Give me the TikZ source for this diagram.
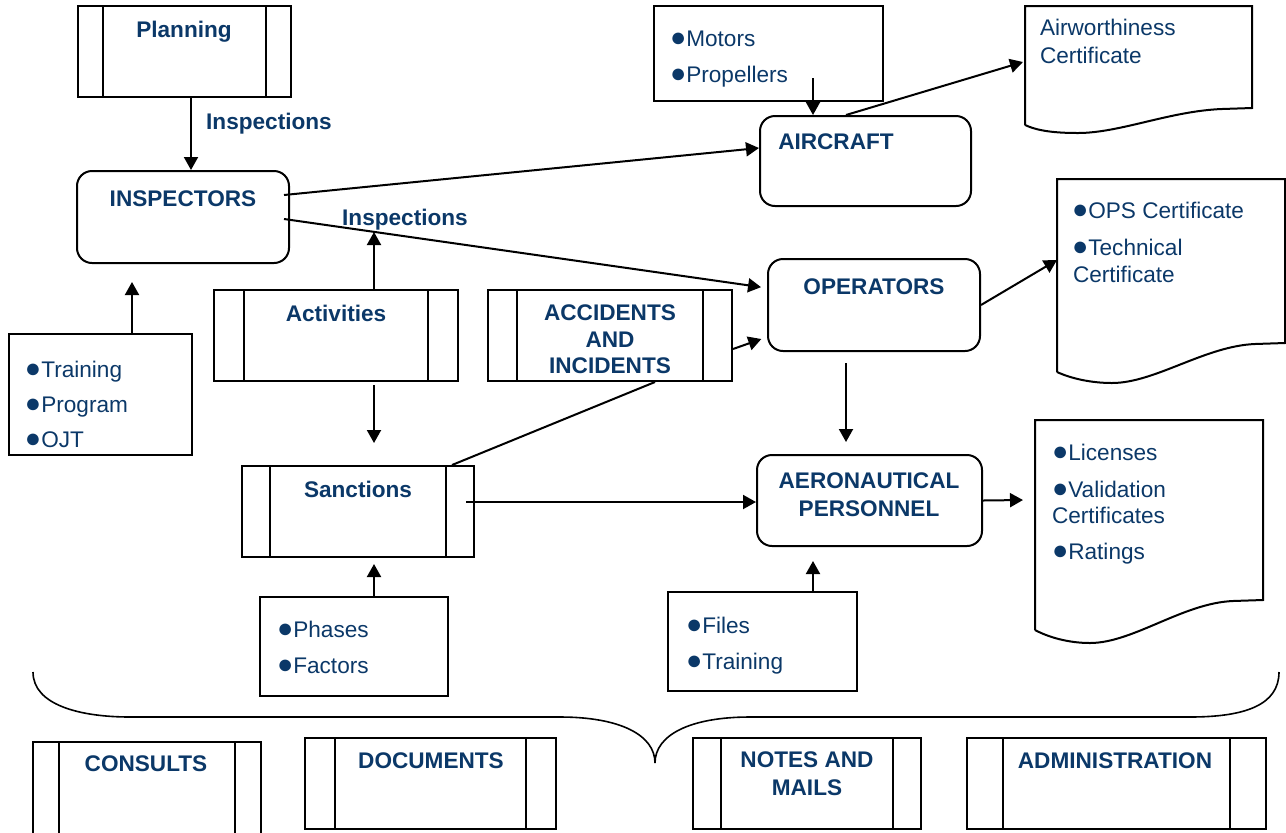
\documentclass[tikz,border=0pt]{standalone}
\usepackage{fontspec}
\setmainfont{Liberation Sans}
\usetikzlibrary{arrows.meta}
\definecolor{navy}{RGB}{11,56,104}
\newcommand{\bul}{{\fontsize{13.5pt}{13.5pt}\selectfont ●}}

\tikzset{
  sz/.style 2 args={minimum width=#1, minimum height=#2, inner sep=0pt},
  proc/.style={draw, path picture={
      \draw[line width=1pt] ([xshift=#1]path picture bounding box.south west) -- ([xshift=#1]path picture bounding box.north west)
                            ([xshift=-#1]path picture bounding box.south east) -- ([xshift=-#1]path picture bounding box.north east);}},
  proc/.default=14pt,
  ent/.style={draw, rounded corners=7.5pt},
  lst/.style={draw},
  ttl/.style={text=navy, font=\fontsize{11.3pt}{13.5pt}\selectfont\bfseries, anchor=base, inner sep=0pt},
  itm/.style={text=navy, font=\fontsize{11.3pt}{13.5pt}\selectfont, anchor=base west, inner sep=0pt}
}

\begin{document}
\begin{tikzpicture}[x=0.5pt, y=-0.5pt, line width=1pt, >={Triangle[length=6.5pt,width=7pt]}]
\useasboundingbox (0,0) rectangle (1286,832);

%Boxes
\node[proc=12.5pt, sz={106.5pt}{45.5pt}] (plan)  at (184.5,51.5) {};
\node[ent, sz={106pt}{46pt}]             (insp)  at (183,217) {};
\node[ent, sz={105.5pt}{45pt}]           (air)   at (865.5,161) {};
\node[ent, sz={106pt}{46pt}]             (oper)  at (874,305) {};
\node[ent, sz={112.5pt}{45.5pt}]         (aero)  at (869.5,500.5) {};
\node[lst, sz={114.5pt}{47.5pt}]         (mot)   at (768.5,53.5) {};
\node[lst, sz={91.5pt}{60.5pt}]          (train) at (100.5,394.5) {};
\node[proc=15pt, sz={122pt}{45.5pt}]     (act)   at (336,335.5) {};
\node[proc=14.5pt, sz={122pt}{45.5pt}]   (acc)   at (610,335.5) {};
\node[proc=14pt, sz={116pt}{45.5pt}]     (sanc)  at (358,511.5) {};
\node[lst, sz={94pt}{49.5pt}]            (phas)  at (354,646.5) {};
\node[lst, sz={94.5pt}{49.5pt}]          (files) at (762.5,641.5) {};
\node[proc=13pt, sz={114pt}{49pt}]       (cons)  at (147,791) {};
\node[proc=15pt, sz={125.5pt}{45.5pt}]   (docs)  at (430.5,783.5) {};
\node[proc=14pt, sz={114pt}{45.5pt}]     (notes) at (807,783.5) {};
\node[proc=18pt, sz={149.5pt}{45.5pt}]   (adm)   at (1116.5,783.5) {};

%Documents
\draw (1025,125) -- (1025,6) -- (1252,6) -- (1252,108) -- (1222,109)
      .. controls (1170,111) and (1120,133) .. (1078,133) .. controls (1055,133) and (1038,131) .. (1025,125);
\draw (1057,372) -- (1057,179) -- (1285,179) -- (1285,343) -- (1255,344)
      .. controls (1205,346) and (1155,383) .. (1112,383) .. controls (1090,383) and (1070,378) .. (1057,372);
\draw (1035,630) -- (1035,420) -- (1263,420) -- (1263,600) -- (1233,601)
      .. controls (1183,603) and (1133,643) .. (1090,643) .. controls (1068,643) and (1048,637) .. (1035,630);

\coordinate (awin)   at (1023,62);
\coordinate (opsin)  at (1057,260);
\coordinate (licin)  at (1023,500);
\coordinate (actup)  at (374,232);
\coordinate (motout) at (813,78);

%Brace
\draw[line width=0.8pt] (33,672) .. controls (33,705) and (80,717) .. (130,717) -- (560,717)
      .. controls (620,717) and (655,735) .. (655,763) .. controls (655,735) and (690,717) .. (750,717)
      -- (1190,717) .. controls (1245,717) and (1279,705) .. (1279,672);

%Titles
\node[ttl] (tplan)  at (184,37)  {Planning};
\node[ttl] (tinsp)  at (183,206) {INSPECTORS};
\node[ttl] (tair)   at (836,149) {AIRCRAFT};
\node[ttl] (toper)  at (874,294) {OPERATORS};
\node[ttl] (taero)  at (869,488) {AERONAUTICAL};
\node[ttl] (taerob) at (869,516) {PERSONNEL};
\node[ttl] (tact)   at (336,321) {Activities};
\node[ttl] (tacc)   at (610,320) {ACCIDENTS};
\node[ttl] (tand)   at (610,347) {AND};
\node[ttl] (tinc)   at (610,373) {INCIDENTS};
\node[ttl] (tsanc)  at (358,497) {Sanctions};
\node[ttl] (tcons)  at (146,771) {CONSULTS};
\node[ttl] (tdocs)  at (431,768) {DOCUMENTS};
\node[ttl] (tnotes) at (807,767) {NOTES AND};
\node[ttl] (tmails) at (807,795) {MAILS};
\node[ttl] (tadm)   at (1115,768) {ADMINISTRATION};
\node[ttl] (lbla)   at (269,129) {Inspections};
\node[ttl] (lblb)   at (405,225) {Inspections};

%Lists
\node[itm] (itra) at (24,377)   {\bul Training};
\node[itm] (iprg) at (24,412)   {\bul Program};
\node[itm] (iojt) at (24,447)   {\bul OJT};
\node[itm] (imot) at (669,46)   {\bul Motors};
\node[itm] (ipro) at (669,82)   {\bul Propellers};
\node[itm] (iaw)  at (1039,35)  {Airworthiness};
\node[itm] (iawc) at (1039,63)  {Certificate};
\node[itm] (iops) at (1071,218) {\bul OPS Certificate};
\node[itm] (itec) at (1071,255) {\bul Technical};
\node[itm] (itcc) at (1072,282) {Certificate};
\node[itm] (ilic) at (1051,460) {\bul Licenses};
\node[itm] (ival) at (1051,497) {\bul Validation};
\node[itm] (ivac) at (1051,523) {Certificates};
\node[itm] (irat) at (1051,559) {\bul Ratings};
\node[itm] (ifil) at (685,633)  {\bul Files};
\node[itm] (itrn) at (685,669)  {\bul Training};
\node[itm] (ipha) at (276,637)  {\bul Phases};
\node[itm] (ifac) at (276,673)  {\bul Factors};

%Connectors
\draw[->] ([xshift=3.25pt]plan.south) -- ([xshift=3.25pt]plan.south |- insp.north);
\draw[->] ([shift={(-3pt,11pt)}]insp.east) -- ([yshift=6.5pt]air.west);
\draw[->, shorten >=3pt] ([shift={(-3pt,-1pt)}]insp.east) -- ([yshift=8.5pt]oper.west);
\draw[->] (act.north -| actup) -- (actup);
\draw[->, shorten >=9pt] ([xshift=15.75pt]train.north) -- ([xshift=15.75pt]train.north |- insp.south);
\draw[->, shorten <=1.5pt, shorten >=11pt] ([xshift=19pt]act.south) -- ([xshift=19pt]act.south |- sanc.north);
\draw ([xshift=47pt]sanc.north) -- ([xshift=22.5pt]acc.south);
\draw[->, shorten >=3pt] ([yshift=-6.75pt]acc.east) -- ([yshift=-16pt]oper.west);
\draw[->] ([shift={(-4.5pt,4.75pt)}]sanc.east) -- ([yshift=-0.75pt]aero.west);
\draw[->, shorten <=5.5pt, shorten >=6pt] ([xshift=-14pt]oper.south) -- ([xshift=-14pt]oper.south |- aero.north);
\draw[->, shorten >=7pt] ([xshift=25.25pt]files.north) -- ([xshift=25.25pt]files.north |- aero.south);
\draw[->, shorten >=3pt] ([xshift=10pt]phas.north) -- ([xshift=10pt]phas.north |- sanc.south);
\draw[->] (motout) -- (motout |- air.north);
\draw[->] ([xshift=-9.75pt]air.north) -- (awin);
\draw[->] (oper.east) -- (opsin);
\draw[->] (aero.east) -- (licin);

\end{tikzpicture}
\end{document}
